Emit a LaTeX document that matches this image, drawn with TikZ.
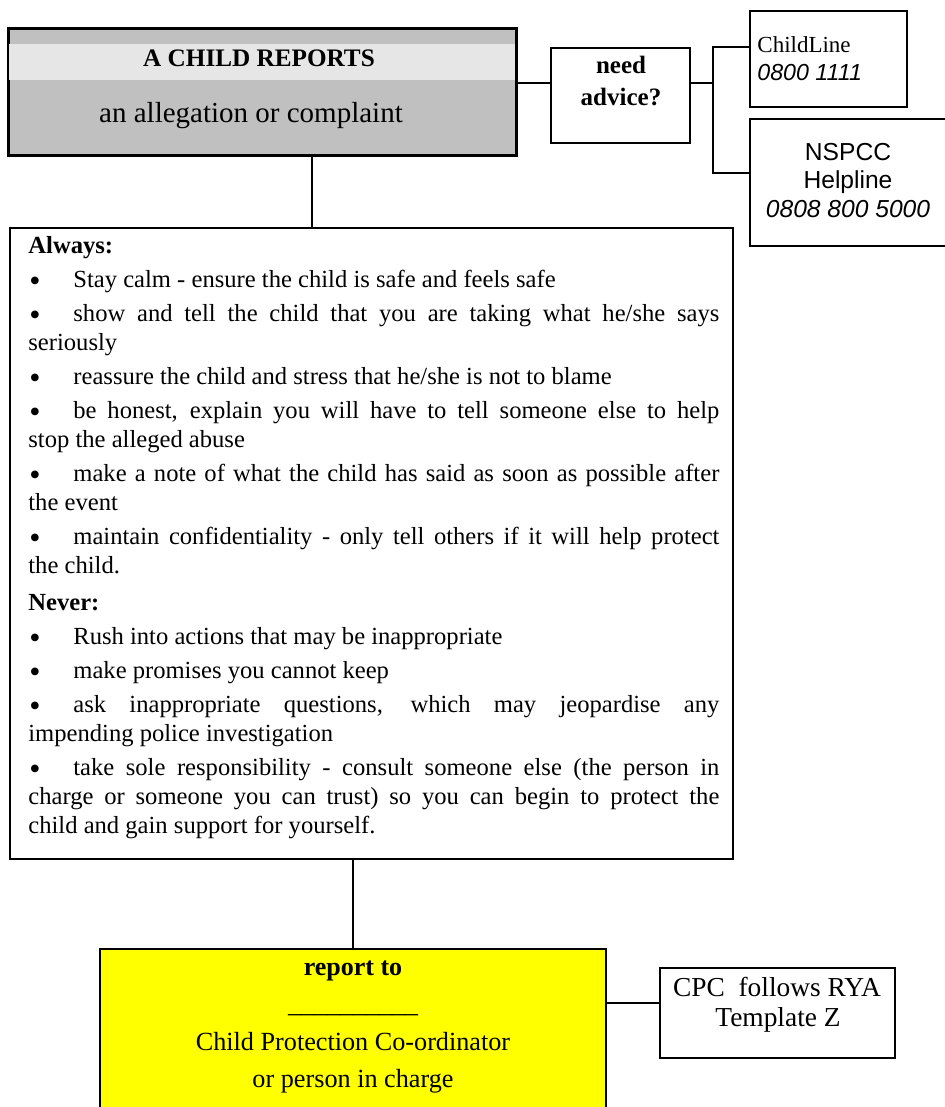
\documentclass[tikz,border=0pt]{standalone}
\usepackage{fontspec}
\setmainfont{Liberation Serif}
\newfontfamily\arialf{Liberation Sans}
\definecolor{boxgray}{RGB}{192,192,192}
\definecolor{bandgray}{RGB}{230,230,230}
\definecolor{ylw}{RGB}{255,255,0}
\newcommand\bul{\makebox[22.5pt][l]{\hspace{0.5pt}\raisebox{-2.2pt}{\fontsize{16}{16}\selectfont\textbullet}}}
\begin{document}
\begin{tikzpicture}[x=0.5pt,y=-0.5pt,
  box/.style={draw, line width=1pt, inner sep=0pt, anchor=north west},
  conn/.style={line width=1pt},
  txt/.style={inner sep=0pt, anchor=base}]
\useasboundingbox (0,0) rectangle (944,1107);
% main box
\node[box, fill=boxgray, minimum width=253.5pt, minimum height=63pt] (main) at (8,28) {};
\fill[bandgray] (8,44) rectangle (515,80);
\draw[line width=1pt] (main.north west) rectangle (main.south east);
\node[txt, font=\fontsize{12.6}{15}\selectfont\bfseries] (t1) at (259,67) {A CHILD REPORTS};
\node[txt, font=\fontsize{14.5}{17}\selectfont] (t2) at (251,123) {an allegation or complaint};
% need advice
\node[box, minimum width=69.5pt, minimum height=47.5pt] (need) at (550,47) {};
\node[txt, font=\fontsize{12.5}{15}\selectfont\bfseries] (n1) at (621,74) {need};
\node[txt, font=\fontsize{12.5}{15}\selectfont\bfseries] (n2) at (621,106) {advice?};
% ChildLine
\node[box, minimum width=78.5pt, minimum height=48pt] (cl) at (749,10) {};
\node[txt, anchor=base west, font=\fontsize{11.5}{14}\selectfont] (c1) at (757,53) {ChildLine};
\node[txt, anchor=base west, font=\fontsize{11.6}{14}\selectfont\arialf\itshape] (c2) at (757,81) {0800 1111};
% NSPCC
\node[box, minimum width=101pt, minimum height=63.5pt] (ns) at (749,118) {};
\node[txt, font=\fontsize{12.3}{14}\selectfont\arialf] (s1) at (848,161) {NSPCC};
\node[txt, font=\fontsize{12.3}{14}\selectfont\arialf] (s2) at (848,189) {Helpline};
\node[txt, font=\fontsize{12.3}{14}\selectfont\arialf\itshape] (s3) at (848,218) {0808 800 5000};
% connectors top
\coordinate (j1) at (713,83);
\coordinate (jt) at (713,47);
\coordinate (jb) at (713,173);
\draw[conn] (main.east|-j1) -- (need.west|-j1);
\draw[conn] (need.east|-j1) -- (j1);
\draw[conn] (cl.west|-jt) -- (jt) -- (jb) -- (ns.west|-jb);
% always box
\node[box, minimum width=361.5pt, minimum height=315.5pt] (alw) at (9,227) {};
\coordinate (v1) at (312,0);
\draw[conn] (main.south-|v1) -- (alw.north-|v1);
\node[inner sep=0pt, anchor=north west, text width=345.5pt, align=justify,
      font=\fontsize{12.3}{14.5}\selectfont] (alwtxt) at (28,236) {%
\setlength{\parskip}{2.5pt}\setlength{\parindent}{0pt}\hyphenpenalty=10000\exhyphenpenalty=10000\emergencystretch=20pt
\textbf{Always:}\par
\bul Stay calm - ensure the child is safe and feels safe\par
\bul show and tell the child that you are taking what he/she says\linebreak seriously\par
\bul reassure the child and stress that he/she is not to blame\par
\bul be honest, explain you will have to tell someone else to help\linebreak stop the alleged abuse\par
\bul make a note of what the child has said as soon as possible after\linebreak the event\par
\bul maintain confidentiality - only tell others if it will help protect\linebreak the child.\par
\vspace{1.5pt}\textbf{Never:}\par
\bul Rush into actions that may be inappropriate\par
\bul make promises you cannot keep\par
\bul ask inappropriate questions, which may jeopardise any\linebreak impending police investigation\par
\bul take sole responsibility - consult someone else (the person in\linebreak charge or someone you can trust) so you can begin to protect the\linebreak child and gain support for yourself.\par}; 
% yellow box
\node[box, fill=ylw, minimum width=253pt, minimum height=95pt] (rep) at (99,948) {};
\coordinate (v2) at (353,0);
\draw[conn] (alw.south-|v2) -- (rep.north-|v2);
\node[txt, font=\fontsize{13}{15}\selectfont\bfseries] (r1) at (353,975) {report to};
\node[txt, font=\fontsize{13}{15}\selectfont] (r2) at (353,1012) {\_\_\_\_\_\_\_\_\_\_};
\node[txt, font=\fontsize{13.1}{15}\selectfont] (r3) at (353,1050) {Child Protection Co-ordinator};
\node[txt, font=\fontsize{13.1}{15}\selectfont] (r4) at (353,1087) {or person in charge};
% CPC box
\node[box, minimum width=117.5pt, minimum height=45pt] (cpc) at (659,967) {};
\coordinate (j2) at (0,1003);
\draw[conn] (rep.east|-j2) -- (cpc.west|-j2);
\node[txt, font=\fontsize{13.7}{15}\selectfont] (p1) at (777,996) {CPC\ \ follows RYA};
\node[txt, font=\fontsize{13.7}{15}\selectfont] (p2) at (778,1026) {Template Z};
\end{tikzpicture}
\end{document}
